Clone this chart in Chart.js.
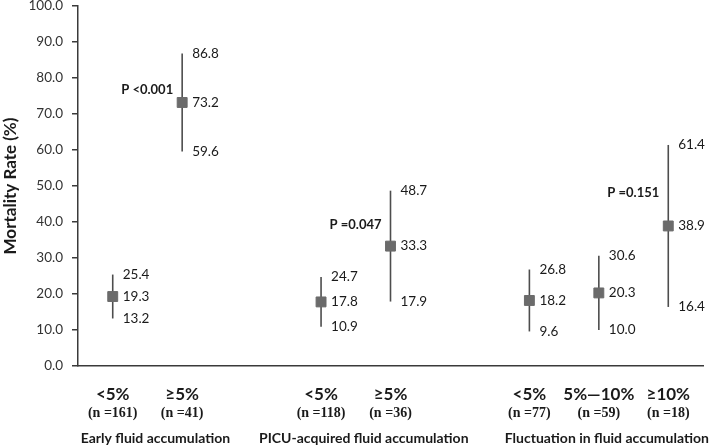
<!DOCTYPE html>
<html>
<head>
<meta charset="utf-8">
<script src="https://cdn.jsdelivr.net/npm/chart.js@4"></script>
<style>
  body { margin: 0; background: #fff; }
  #wrap { width: 716px; height: 447px; }
</style>
</head>
<body>
<div id="wrap"><canvas id="mortalityChart"></canvas></div>
<script>
// one slot per subgroup, empty slots separate the three groups
const categories = ['<5%', '≥5%', '', '<5%', '≥5%', '', '<5%', '5%—10%', '≥10%'];
const sampleSizes = [161, 41, null, 118, 36, null, 77, 59, 18];
const mortality = [19.3, 73.2, null, 17.8, 33.3, null, 18.2, 20.3, 38.9];
const lowerCI = [13.2, 59.6, null, 10.9, 17.9, null, 9.6, 10.0, 16.4];
const upperCI = [25.4, 86.8, null, 24.7, 48.7, null, 26.8, 30.6, 61.4];

const groupNames = ['Early fluid accumulation', 'PICU-acquired fluid accumulation', 'Fluctuation in fluid accumulation'];
const groupFirst = [0, 3, 6];
const groupLast = [1, 4, 8];
const pValues = ['P <0.001', 'P =0.047', 'P =0.151'];
const pValueAt = [76.7, 39.2, 48.1];

const yTicks = [0, 10, 20, 30, 40, 50, 60, 70, 80, 90, 100];

const SANS = 'Lato, "Liberation Sans", sans-serif';
const SERIF = '"Liberation Serif", "DejaVu Serif", serif';
const TEXT = '#1a1a1a';
const AXIS = '#3a3a3a';

// error bars under the markers, numbers and captions on top
const errorBars = {
    id: 'errorBars',
    beforeDatasetsDraw(chart) {
        const { ctx, scales: { x, y } } = chart;
        ctx.save();
        ctx.strokeStyle = '#4d4d4d';
        ctx.lineWidth = 1.6;
        mortality.forEach((m, i) => {
            if (m === null) return;
            const px = x.getPixelForValue(i);
            ctx.beginPath();
            ctx.moveTo(px, y.getPixelForValue(upperCI[i]));
            ctx.lineTo(px, y.getPixelForValue(lowerCI[i]));
            ctx.stroke();
        });
        ctx.restore();
    },
    afterDatasetsDraw(chart) {
        const { ctx, chartArea, scales: { x, y } } = chart;
        ctx.save();
        ctx.fillStyle = TEXT;
        ctx.textBaseline = 'middle';

        ctx.font = '13.5px ' + SANS;
        ctx.textAlign = 'left';
        mortality.forEach((m, i) => {
            if (m === null) return;
            const px = x.getPixelForValue(i) + 10;
            ctx.fillText(upperCI[i].toFixed(1), px, y.getPixelForValue(upperCI[i]));
            ctx.fillText(m.toFixed(1), px, y.getPixelForValue(m));
            ctx.fillText(lowerCI[i].toFixed(1), px, y.getPixelForValue(lowerCI[i]));
        });

        ctx.font = 'bold 13px ' + SANS;
        ctx.textAlign = 'right';
        pValues.forEach((p, g) => {
            const px = x.getPixelForValue(groupLast[g]) - 9;
            ctx.fillText(p, px, y.getPixelForValue(pValueAt[g]));
        });

        ctx.textAlign = 'center';
        ctx.font = 'bold 14px ' + SERIF;
        sampleSizes.forEach((n, i) => {
            if (n === null) return;
            ctx.fillText('(n =' + n + ')', x.getPixelForValue(i), chartArea.bottom + 47);
        });

        ctx.font = 'bold 14px ' + SANS;
        groupNames.forEach((name, g) => {
            const cx = (x.getPixelForValue(groupFirst[g]) + x.getPixelForValue(groupLast[g])) / 2;
            ctx.fillText(name, cx + 8, chartArea.bottom + 72);
        });
        ctx.restore();
    }
};

new Chart(document.getElementById('mortalityChart'), {
    type: 'line',
    data: {
        labels: categories,
        datasets: [{
            data: mortality,
            showLine: false,
            pointStyle: 'rect',
            pointRadius: 7,
            pointHoverRadius: 7,
            pointBackgroundColor: '#6b6b6b',
            pointBorderColor: '#6b6b6b',
            pointBorderWidth: 1
        }]
    },
    options: {
        responsive: true,
        maintainAspectRatio: false,
        animation: false,
        layout: { autoPadding: false, padding: { top: 6, right: 13, left: 0, bottom: 0 } },
        plugins: {
            legend: { display: false },
            tooltip: { enabled: false }
        },
        scales: {
            x: {
                offset: true,
                grid: { display: false, drawTicks: false },
                border: { display: true, color: AXIS, width: 1.5 },
                ticks: {
                    color: TEXT,
                    font: { family: SANS, size: 17, weight: 'bold' },
                    padding: 18,
                    autoSkip: false,
                    maxRotation: 0
                },
                afterFit(scale) { scale.height = 81; }
            },
            y: {
                min: 0,
                max: 100,
                afterBuildTicks(scale) { scale.ticks = yTicks.map(v => ({ value: v })); },
                grid: { drawOnChartArea: false, color: AXIS, tickLength: 6, lineWidth: 1.5 },
                border: { color: AXIS, width: 1.5 },
                ticks: {
                    color: '#333',
                    font: { family: SANS, size: 13.5 },
                    padding: 9,
                    callback: v => v.toFixed(1)
                },
                title: {
                    display: true,
                    text: 'Mortality Rate (%)',
                    color: TEXT,
                    font: { family: SANS, size: 17, weight: 'bold' },
                    padding: { top: 0, bottom: 0 }
                },
                afterFit(scale) {
                    scale.width = 78;
                    scale.paddingTop = 0;
                    scale.paddingBottom = 0;
                }
            }
        }
    },
    plugins: [errorBars]
});
</script>
</body>
</html>
